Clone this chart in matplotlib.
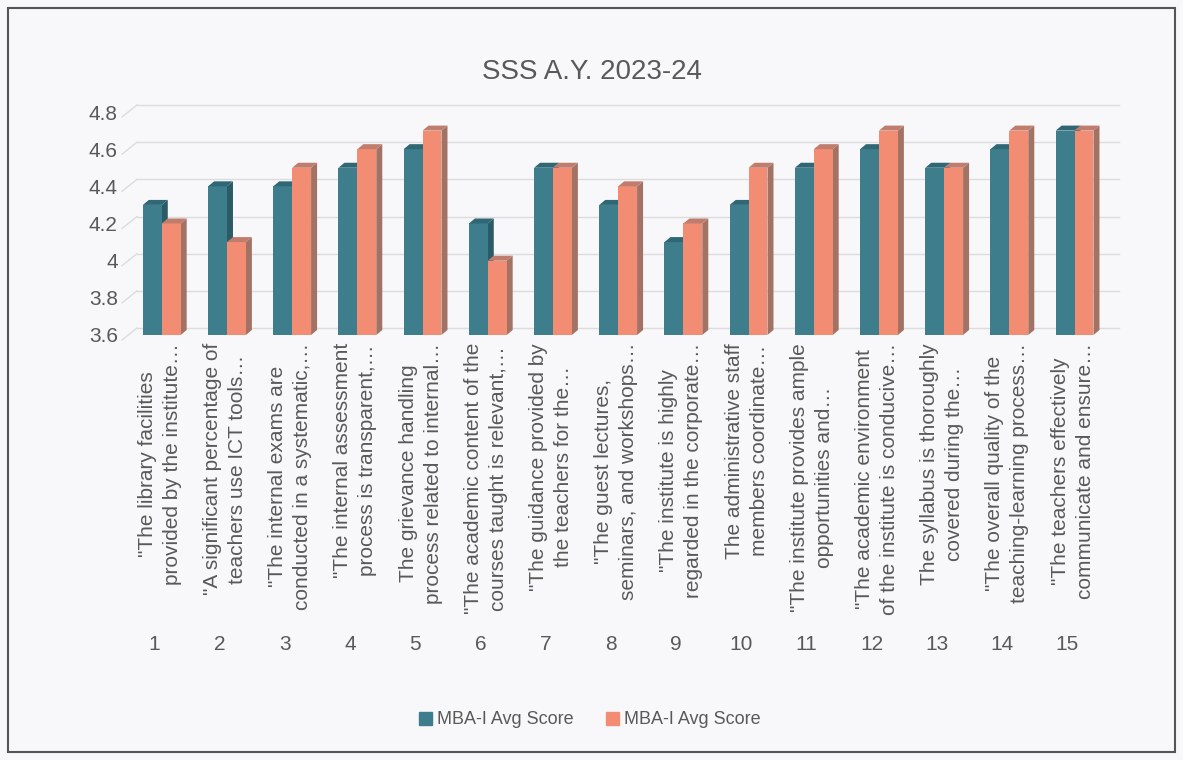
import matplotlib
matplotlib.use("Agg")
import matplotlib.pyplot as plt
from matplotlib.patches import Polygon, Rectangle
import matplotlib.transforms as mtransforms

title = "SSS A.Y. 2023-24"
categories = [
    '"The library facilities\nprovided by the institute…',
    '"A significant percentage of\nteachers use ICT tools…',
    '"The internal exams are\nconducted in a systematic,…',
    '"The internal assessment\nprocess is transparent,…',
    'The grievance handling\nprocess related to internal…',
    '"The academic content of the\ncourses taught is relevant,…',
    '"The guidance provided by\nthe teachers for the…',
    '"The guest lectures,\nseminars, and workshops…',
    '"The institute is highly\nregarded in the corporate…',
    'The administrative staff\nmembers coordinate…',
    '"The institute provides ample\nopportunities and…',
    '"The academic environment\nof the institute is conducive…',
    'The syllabus is thoroughly\ncovered during the…',
    '"The overall quality of the\nteaching-learning process…',
    '"The teachers effectively\ncommunicate and ensure…',
]
numbers = [str(i) for i in range(1, 16)]
series_names = ["MBA-I Avg Score", "MBA-I Avg Score"]
teal_vals = [4.3, 4.4, 4.4, 4.5, 4.6, 4.2, 4.5, 4.3, 4.1, 4.3, 4.5, 4.6, 4.5, 4.6, 4.7]
salmon_vals = [4.2, 4.1, 4.5, 4.6, 4.7, 4.0, 4.5, 4.4, 4.2, 4.5, 4.6, 4.7, 4.5, 4.7, 4.7]
yticks = [3.6, 3.8, 4.0, 4.2, 4.4, 4.6, 4.8]
ytick_labels = ["3.6", "3.8", "4", "4.2", "4.4", "4.6", "4.8"]

FONT = ["Liberation Sans", "DejaVu Sans"]
plt.rcParams['font.family'] = FONT
TXT = '#595959'
FS = 15

W, H = 1183, 760
fig = plt.figure(figsize=(W / 100, H / 100), dpi=100)
fig.patch.set_facecolor('#F8F8FA')

# axes front plane: x 122..1100 px, y 112..335 px (from top)
L, R, T, B = 122, 1100, 112, 335
ax = fig.add_axes([L / W, 1 - B / H, (R - L) / W, (B - T) / H])
ax.set_facecolor('none')
ymin, ymax = 3.6, 4.8
ax.set_xlim(0.5, 15.5)
ax.set_ylim(ymin, ymax)
for s in ax.spines.values():
    s.set_visible(False)
ax.set_xticks([])
ax.set_yticks(yticks)
ax.set_yticklabels(ytick_labels, fontsize=FS, color=TXT)
ax.tick_params(axis='y', length=0, pad=3)

ux = 15.0 / (R - L)          # data units per px (x)
uy = (ymax - ymin) / (B - T)  # data units per px (y)

# back wall gridlines
for v in yticks:
    ax.plot([0.5, 0.5 + 15 * ux], [v - 5 * uy, v + 7 * uy], color='#DCDCDC', lw=1,
            clip_on=False, zorder=0)
    ax.plot([0.5 + 15 * ux, 0.5 + 997 * ux], [v + 7 * uy, v + 7 * uy], color='#DCDCDC',
            lw=1, clip_on=False, zorder=0)

w = 0.29
dx, dy = 6 * ux, 5 * uy
series = [
    (teal_vals, -0.18, '#3E7D8C', '#2F6775', '#2A5B67', 2),
    (salmon_vals, -0.18 + w, '#F28D74', '#C07D6E', '#A27265', 3),
]
x = list(range(1, 16))
for vals, off, cf, ct, cs, z in series:
    lefts = [xi + off for xi in x]
    ax.bar(lefts, [v - ymin for v in vals], width=w, bottom=ymin, align='edge',
           color=cf, zorder=z + 0.1, clip_on=False)
    for l, v in zip(lefts, vals):
        r = l + w
        ax.add_patch(Polygon([(r, ymin), (r + dx, ymin + dy), (r + dx, v + dy), (r, v)],
                             closed=True, facecolor=cs, edgecolor='none', zorder=z,
                             clip_on=False))
        ax.add_patch(Polygon([(l, v), (r, v), (r + dx, v + dy), (l + dx, v + dy)],
                             closed=True, facecolor=ct, edgecolor='none', zorder=z + 0.2,
                             clip_on=False))

trans = mtransforms.blended_transform_factory(ax.transData, ax.transAxes)
for xi, lab in zip(x, categories):
    ax.text(xi + 0.08, (B - 343) / (B - T), lab, transform=trans, rotation=90,
            ha='center', va='top', multialignment='center', linespacing=1.4,
            fontsize=FS, color=TXT)
for xi, n in zip(x, numbers):
    ax.text(xi, (B - 644) / (B - T), n, transform=trans, ha='center', va='center',
            fontsize=FS, color=TXT)

fig.text(0.5, 1 - 72 / H, title, ha='center', va='center', fontsize=20, color=TXT)

handles = [Rectangle((0, 0), 1, 1, color='#3E7D8C'), Rectangle((0, 0), 1, 1, color='#F28D74')]
fig.legend(handles, series_names, loc='center', bbox_to_anchor=(590 / W, 1 - 720 / H),
           ncol=2, frameon=False, fontsize=13, handlelength=0.7, handleheight=0.7,
           handletextpad=0.3, columnspacing=1.8, labelcolor=TXT)

fig.add_artist(Rectangle((8 / W, 8 / H), (W - 16) / W, (H - 16) / H, transform=fig.transFigure,
                         fill=False, edgecolor='#555555', lw=1.5))

fig.savefig('out.png', dpi=100, facecolor=fig.get_facecolor())
